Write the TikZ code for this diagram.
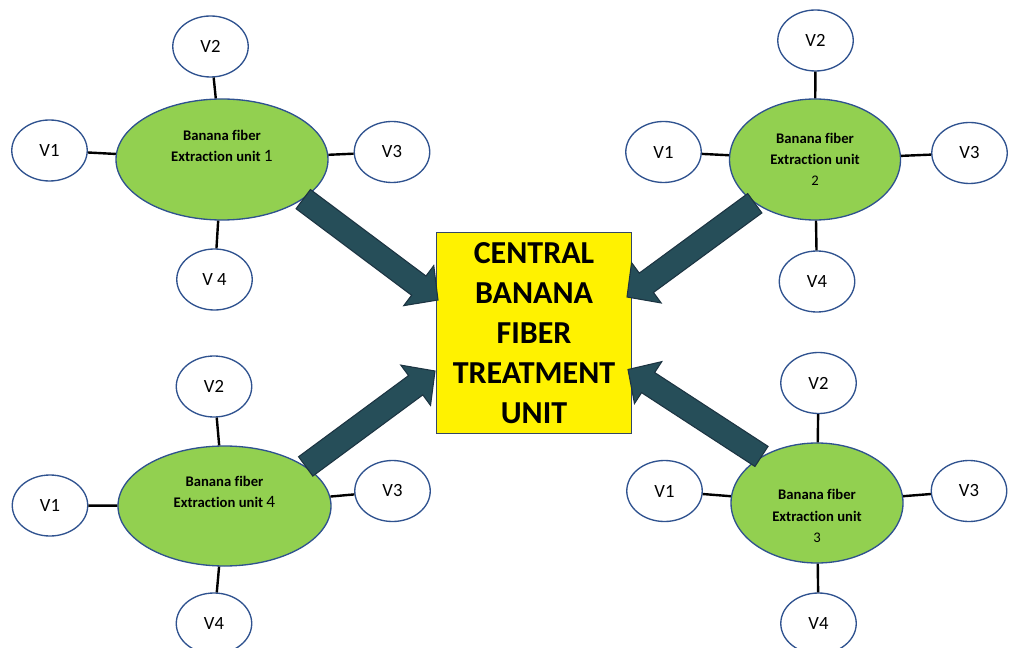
\documentclass[tikz,border=0pt]{standalone}
\usepackage{fontspec}
\setmainfont{Carlito}[Ligatures=NoCommon]
\usepackage{tikz}
\usetikzlibrary{shapes.geometric,calc}
\definecolor{leafgreen}{RGB}{146,208,80}
\definecolor{edgeblue}{RGB}{47,82,143}
\definecolor{boxedge}{RGB}{52,72,100}
\definecolor{arrowteal}{RGB}{38,78,89}
\definecolor{arrowedge}{RGB}{28,52,66}

% block arrow from #1 (tail) to #2 (tip)
\newcommand{\fatarrow}[2]{%
  \coordinate (base) at ($(#2)!18pt!(#1)$);
  \draw[fatarrow] ($(#1)!9pt!90:(#2)$) -- ($(base)!9pt!90:(#2)$) -- ($(base)!18.75pt!90:(#2)$)
    -- (#2) -- ($(base)!18.75pt!-90:(#2)$) -- ($(base)!9pt!-90:(#2)$) -- ($(#1)!9pt!-90:(#2)$) -- cycle;}

\begin{document}
\begin{tikzpicture}[
  x=0.75pt, y=-0.75pt,
  unit/.style={ellipse, draw=edgeblue, fill=leafgreen, line width=1pt, inner sep=0pt, align=center, font=\bfseries\fontsize{11}{16}\selectfont},
  valve/.style={ellipse, draw=edgeblue, fill=white, line width=1pt, inner sep=0pt, minimum width=56.6pt, minimum height=45.75pt, font=\fontsize{14}{16}\selectfont},
  centre/.style={rectangle, draw=boxedge, fill=yellow, line width=0.8pt, align=center, minimum width=146pt, minimum height=150.75pt, font=\bfseries\fontsize{24}{30}\selectfont},
  link/.style={line width=1.8pt},
  fatarrow/.style={fill=arrowteal, draw=arrowedge, line width=0.8pt}
]
  \useasboundingbox (0,0) rectangle (1009,648);

  % extraction unit 1
  \node[unit, minimum width=159pt, minimum height=90.75pt] (u1) at (222,159.5) {Banana fiber\\Extraction unit {\mdseries\fontsize{13}{16}\selectfont 1}\\\strut};
  \node[valve] (u1-v1) at (49.5,150.5) {V1};
  \node[valve] (u1-v2) at (210.5,46.5) {V2};
  \node[valve] (u1-v3) at (392,152) {V3};
  \node[valve] (u1-v4) at (214.5,279.5) {V 4};

  % extraction unit 2
  \node[unit, minimum width=128.25pt, minimum height=90.75pt] (u2) at (815,159.5) {Banana fiber\\Extraction unit\\{\mdseries 2}};
  \node[valve] (u2-v1) at (663.5,152) {V1};
  \node[valve] (u2-v2) at (815.5,40.5) {V2};
  \node[valve] (u2-v3) at (969.5,153) {V3};
  \node[valve] (u2-v4) at (817,281.5) {V4};

  % extraction unit 3
  \node[unit, minimum width=129pt, minimum height=90pt] (u3) at (817,503) {\strut\\Banana fiber\\Extraction unit\\{\mdseries 3}};
  \node[valve] (u3-v1) at (664.5,491) {V1};
  \node[valve] (u3-v2) at (818.5,383) {V2};
  \node[valve] (u3-v3) at (969,491) {V3};
  \node[valve] (u3-v4) at (818.5,623.5) {V4};

  % extraction unit 4
  \node[unit, minimum width=159.75pt, minimum height=90pt] (u4) at (224.5,506) {Banana fiber\\Extraction unit {\mdseries\fontsize{13}{16}\selectfont 4}\\\strut};
  \node[valve] (u4-v1) at (50,505.5) {V1};
  \node[valve] (u4-v2) at (214,386.5) {V2};
  \node[valve] (u4-v3) at (392.5,491) {V3};
  \node[valve] (u4-v4) at (214,623.5) {V4};

  \foreach \u in {u1,u2,u3,u4}
    \foreach \v in {v1,v2,v3,v4}
      \draw[link] (\u) -- (\u-\v);

  \node[centre] (ctr) at (534,333) {CENTRAL\\BANANA\\FIBER\\TREATMENT\\UNIT};

  \coordinate (tip1) at (438,300);
  \coordinate (tip2) at (627,297);
  \coordinate (tip3) at (628,369.5);
  \coordinate (tip4) at (435,371);
  \fatarrow{u1.-26}{tip1}
  \fatarrow{u2.216}{tip2}
  \fatarrow{u3.140}{tip3}
  \fatarrow{u4.26}{tip4}
\end{tikzpicture}
\end{document}
